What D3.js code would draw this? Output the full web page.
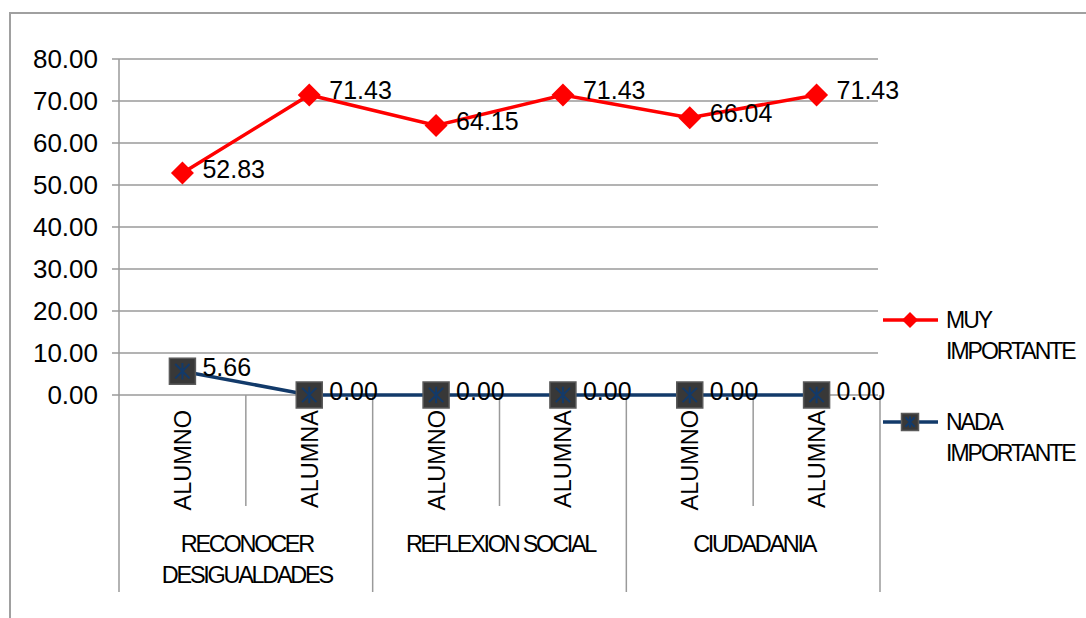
<!DOCTYPE html>
<html><head><meta charset="utf-8">
<script src="https://cdn.jsdelivr.net/npm/d3@7"></script>
<style>
body{margin:0;background:#fff;}
svg{display:block;font-family:"Liberation Sans",Arial,sans-serif;}
</style></head>
<body><svg id="c" width="1086" height="618"></svg>
<script>
const groups = ["RECONOCER\nDESIGUALDADES","REFLEXION SOCIAL","CIUDADANIA"];
const subCats = ["ALUMNO","ALUMNA","ALUMNO","ALUMNA","ALUMNO","ALUMNA"];
const muyImportante = [52.83,71.43,64.15,71.43,66.04,71.43];
const nadaImportante = [5.66,0.00,0.00,0.00,0.00,0.00];
const yTicks = [0,10,20,30,40,50,60,70,80];
const seriesNames = ["MUY\nIMPORTANTE","NADA\nIMPORTANTE"];

const svg = d3.select("#c");
const L=119, R=880, T=59, B=395;
const y = d3.scaleLinear().domain([0,80]).range([B,T]);
const x = d3.scaleBand().domain(d3.range(subCats.length)).range([L,R]);
const cx = i => x(i)+x.bandwidth()/2;
const grid="#9a9a9a";

// outer frame
svg.append("path").attr("d","M10,630 V13 H1100").attr("fill","none").attr("stroke","#a0a0a0").attr("stroke-width",2);

// gridlines
svg.append("g").selectAll("line").data(yTicks).join("line")
 .attr("x1",L-7).attr("x2",R-2).attr("y1",d=>y(d)).attr("y2",d=>y(d))
 .attr("stroke",grid).attr("stroke-width",1.5);
// y labels
svg.append("g").selectAll("text").data(yTicks).join("text")
 .attr("x",98).attr("y",d=>y(d)+9).attr("text-anchor","end")
 .attr("font-size",26).attr("fill","#000").text(d=>d3.format(".2f")(d));
// y axis line
svg.append("line").attr("x1",L).attr("x2",L).attr("y1",T).attr("y2",592).attr("stroke",grid).attr("stroke-width",1.5);

// category separators
const bounds = d3.range(1,subCats.length+1);
svg.append("g").selectAll("line").data(bounds).join("line")
 .attr("x1",i=>i<subCats.length?x(i):R).attr("x2",i=>i<subCats.length?x(i):R)
 .attr("y1",B).attr("y2",i=>i%2===0?592:506)
 .attr("stroke",grid).attr("stroke-width",1.5);

// rotated sub labels
svg.append("g").selectAll("text").data(subCats).join("text")
 .attr("transform",(d,i)=>`translate(${cx(i)+8.5},410) rotate(-90)`)
 .attr("text-anchor","end").attr("font-size",23.5).attr("fill","#000").text(d=>d);

// group labels
groups.forEach((g,gi)=>{
  const mid = x(gi*2+1);
  const lines = g.split("\n");
  const t = svg.append("text").attr("text-anchor","middle").attr("font-size",23.5)
    .attr("letter-spacing","-2.3px").attr("fill","#000");
  lines.forEach((ln,li)=>t.append("tspan").attr("x",mid+1).attr("y",552+li*31).text(ln));
});

// series lines
const line = d3.line().x((d,i)=>cx(i)).y(d=>y(d));
const red="#ff0000", navy="#123a6a";
svg.append("path").datum(muyImportante).attr("d",line).attr("fill","none").attr("stroke",red).attr("stroke-width",3.5);
svg.append("path").datum(nadaImportante).attr("d",line).attr("fill","none").attr("stroke",navy).attr("stroke-width",3.5);

const diamond = (s)=>`M0,${-s} L${s},0 L0,${s} L${-s},0 Z`;
function sqMarker(g,s){
  g.append("rect").attr("x",-s).attr("y",-s).attr("width",2*s).attr("height",2*s)
   .attr("fill","#383838").attr("stroke","#5a5a5a").attr("stroke-width",1.5);
  const a=s*0.55;
  g.append("path").attr("d",`M${-a},${-a} L${a},${a} M${a},${-a} L${-a},${a} M0,${-a*1.15} V${a*1.15}`)
   .attr("stroke",navy).attr("stroke-width",2);
}
// markers
svg.append("g").selectAll("path").data(muyImportante).join("path")
 .attr("transform",(d,i)=>`translate(${cx(i)},${y(d)})`).attr("d",diamond(11.5)).attr("fill",red);
nadaImportante.forEach((d,i)=>{
  const g=svg.append("g").attr("transform",`translate(${cx(i)},${y(d)})`);
  sqMarker(g,13);
});

// data labels
svg.append("g").selectAll("text").data(muyImportante).join("text")
 .attr("x",(d,i)=>cx(i)+20).attr("y",d=>y(d)+4.5).attr("font-size",25).attr("fill","#000")
 .text(d=>d3.format(".2f")(d));
svg.append("g").selectAll("text").data(nadaImportante).join("text")
 .attr("x",(d,i)=>cx(i)+20).attr("y",d=>y(d)+5).attr("font-size",25).attr("fill","#000")
 .text(d=>d3.format(".2f")(d));

// legend
const leg=[{name:seriesNames[0],y:320,c:red,m:"d"},{name:seriesNames[1],y:422,c:navy,m:"s"}];
leg.forEach(l=>{
  svg.append("line").attr("x1",883).attr("x2",938).attr("y1",l.y).attr("y2",l.y).attr("stroke",l.c).attr("stroke-width",3.5);
  const g=svg.append("g").attr("transform",`translate(910,${l.y})`);
  if(l.m==="d") g.append("path").attr("d",diamond(8)).attr("fill",red);
  else sqMarker(g,8.5);
  const t=svg.append("text").attr("font-size",23).attr("letter-spacing","-2px").attr("fill","#000");
  l.name.split("\n").forEach((ln,li)=>t.append("tspan").attr("x",946).attr("y",l.y+8+li*31).text(ln));
});
</script></body></html>
